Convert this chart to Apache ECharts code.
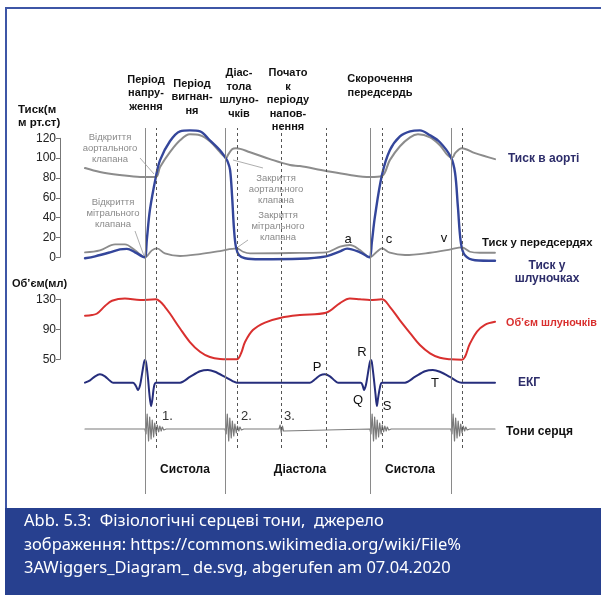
<!DOCTYPE html>
<html><head><meta charset="utf-8">
<script src="https://cdn.jsdelivr.net/npm/echarts@6/dist/echarts.min.js"></script>
<style>html,body{margin:0;padding:0;background:#fff}#c{width:601px;height:595px}</style>
</head><body><div id="c"></div>
<script>
// time axis in ms (one cardiac cycle = 800 ms)
const T_MIN = 0, T_MAX = 1458;
const solidEvents = [213, 500, 1013, 1301];
const dashedEvents = [252, 540, 697, 857, 1056, 1340];
const pressureTicks = [0, 20, 40, 60, 80, 100, 120];
const volumeTicks = [50, 90, 130];

// pressure, mmHg
const aorticPressure = [[0,90],[53,86],[124,83],[196,81],[252,81],[267,91],[302,106],[338,118],[373,124],[409,123],[444,117],[480,106],[498,101],[503,100.5],[508,103],[523,109],[537,110],[587,106],[658,99],[729,93],[764,92],[857,87],[942,83],[1013,81],[1056,82],[1084,98],[1120,112],[1156,121],[1184,124],[1227,121],[1262,113],[1301,101],[1308,101],[1316,105],[1340,110],[1387,105],[1458,99]];
const ventricularPressure = [[0,-1],[36,1],[89,5],[124,8],[149,8.5],[178,5],[203,1],[213,0],[220,18],[231,48],[252,81],[267,98],[302,117],[338,127],[373,128],[409,127],[444,118],[480,108],[498,101],[508,96],[516,88],[523,62],[530,28],[537,10],[548,2],[569,-1],[622,-2],[764,-1.5],[857,1],[907,6],[932,8.7],[978,5],[1003,1],[1013,0],[1020,15],[1031,41],[1056,83],[1084,108],[1120,122],[1156,127],[1191,128],[1227,123],[1262,116],[1301,101],[1316,85],[1326,51],[1337,14],[1351,2],[1387,-3],[1458,-3.5]];
const atrialPressure = [[0,5],[53,7],[107,13],[142,13],[178,7],[213,0],[238,7],[256,9],[284,4],[338,1.3],[409,3.3],[480,6.3],[540,9],[562,5.6],[587,4],[764,4.5],[857,5],[907,10.7],[942,12.4],[978,7.4],[1013,0],[1038,5.6],[1056,9],[1084,4.6],[1138,2.3],[1227,4.6],[1301,8],[1340,10],[1369,5.6],[1404,4.6],[1458,4.6]];
// ventricular volume, ml
const ventricularVolume = [[0,108],[25,109],[43,111],[71,121],[96,128],[142,131],[196,129],[252,130],[267,127],[284,120],[302,111],[338,91],[373,73],[409,60],[444,53],[480,50.5],[540,50],[555,58],[569,73],[597,89],[640,99],[697,105.5],[764,109],[857,112],[907,125],[942,131],[978,130],[1013,129],[1056,130],[1084,120],[1120,102],[1156,85],[1191,69],[1227,58],[1262,52],[1301,50],[1340,49.5],[1369,71],[1394,87],[1422,96],[1458,100]];
// ECG, mV
const ecg = [[0,0],[18,0.1],[36,0.28],[53,0.37],[71,0.28],[89,0.08],[100,0],[171,0],[181,-0.15],[188,-0.32],[196,-0.1],[203,0.4],[210,0.9],[213,1.0],[217,0.9],[224,0.2],[229,-0.5],[235,-1.03],[240,-0.7],[245,-0.2],[252,0],[338,0],[373,0.25],[409,0.5],[437,0.56],[462,0.48],[498,0.25],[526,0.06],[540,0],[800,0],[818,0.15],[836,0.32],[853,0.37],[871,0.28],[889,0.08],[900,0],[981,0],[988,-0.15],[992,-0.32],[999,-0.1],[1006,0.4],[1013,0.9],[1017,1.0],[1020,0.9],[1027,0.2],[1033,-0.5],[1038,-1.03],[1042,-0.7],[1049,-0.2],[1056,0],[1138,0],[1173,0.25],[1209,0.5],[1237,0.56],[1262,0.48],[1298,0.25],[1323,0.06],[1340,0],[1458,0]];
// heart sounds, relative amplitude
const heartSounds = [[0,0],
[213,0],[217,-5],[221,15],[226,-12],[230,12],[235,-10],[239,9],[244,-8],[248,6],[253,-5],[257,4],[262,-3],[266,3],[271,-2],[275,2],[280,-1],[284,1],[289,0],
[498,0],[502,-5],[506,15],[511,-12],[515,11],[520,-9],[524,8],[529,-7],[533,5],[538,-4],[542,3],[547,-2],[551,2],[556,-1],[560,1],[565,0],
[690,0],[694,4],[698,-4],[702,3],[706,-2],[710,0],
[1013,0],[1017,-5],[1021,15],[1026,-12],[1030,12],[1035,-10],[1039,9],[1044,-8],[1048,6],[1053,-5],[1057,4],[1062,-3],[1066,3],[1071,-2],[1075,2],[1080,-1],[1084,1],[1089,0],
[1301,0],[1305,-5],[1309,15],[1314,-12],[1318,11],[1323,-9],[1327,8],[1332,-7],[1336,5],[1341,-4],[1345,3],[1350,-2],[1354,2],[1359,-1],[1363,1],[1368,0],
[1458,0]];

const GRAY = '#8c8c8c', BLUE = '#34469b', RED = '#d9302f', NAVY = '#262e7c', TXT_NAVY = '#2d2d6a';
const FONT = '"Liberation Sans", Arial, sans-serif';

const chart = echarts.init(document.getElementById('c'));
const L = 85, W = 410;
const grids = [
  {left: L, width: W, top: 138.3, height: 119},   // pressure
  {left: L, width: W, top: 299.3, height: 60},    // volume
  {left: L, width: W, top: 348.6, height: 68.1},  // ecg
  {left: L, width: W, top: 409, height: 40},      // sounds
  {left: L, width: W, top: 128, height: 366},     // solid event lines
  {left: L, width: W, top: 128, height: 320}      // dashed event lines
];
const xAxes = grids.map((g, i) => ({type: 'value', gridIndex: i, min: T_MIN, max: T_MAX, show: false}));
const axisCommon = {
  type: 'value', position: 'left', offset: 25, splitLine: {show: false},
  axisLine: {show: true, onZero: false, lineStyle: {color: '#777', width: 1}},
  axisLabel: {color: '#222', fontSize: 12, margin: 4, fontFamily: FONT},
  axisTick: {show: true, inside: false, length: 4, lineStyle: {color: '#777'}}
};
const yAxes = [
  Object.assign({}, axisCommon, {gridIndex: 0, min: 0, max: 120,
    axisLabel: Object.assign({}, axisCommon.axisLabel, {customValues: pressureTicks}),
    axisTick: Object.assign({}, axisCommon.axisTick, {customValues: pressureTicks})}),
  Object.assign({}, axisCommon, {gridIndex: 1, min: 50, max: 130,
    axisLabel: Object.assign({}, axisCommon.axisLabel, {customValues: volumeTicks}),
    axisTick: Object.assign({}, axisCommon.axisTick, {customValues: volumeTicks})}),
  {type: 'value', gridIndex: 2, min: -1.5, max: 1.5, show: false},
  {type: 'value', gridIndex: 3, min: -20, max: 20, show: false},
  {type: 'value', gridIndex: 4, min: 0, max: 1, show: false},
  {type: 'value', gridIndex: 5, min: 0, max: 1, show: false}
];
function curve(idx, data, color, width, smooth, z) {
  return {type: 'line', xAxisIndex: idx, yAxisIndex: idx, data, smooth, symbol: 'none', showSymbol: false,
    clip: false, z, lineStyle: {color, width, cap: 'round', join: 'round'}, silent: true};
}
function eventLines(idx, events, color, type) {
  return {type: 'line', xAxisIndex: idx, yAxisIndex: idx, data: [], z: 1, silent: true,
    markLine: {silent: true, symbol: ['none', 'none'], label: {show: false}, animation: false,
      lineStyle: {color, width: 1, type}, data: events.map(t => ({xAxis: t}))}};
}
const series = [
  eventLines(4, solidEvents, '#8a8a8a', 'solid'),
  eventLines(5, dashedEvents, '#555', [3, 3]),
  curve(0, atrialPressure, GRAY, 1.8, 0.35, 3),
  curve(0, aorticPressure, GRAY, 2, 0.35, 3),
  curve(0, ventricularPressure, BLUE, 2.4, 0.35, 4),
  curve(1, ventricularVolume, RED, 2, 0.35, 3),
  curve(2, ecg, NAVY, 2, 0.3, 3),
  curve(3, heartSounds, '#7a7a7a', 1.2, false, 3)
];

function txt(x, y, text, opts) {
  opts = opts || {};
  return {type: 'text', x, y, silent: true, z: 10, style: Object.assign({
    text, fill: opts.fill || '#111', font: (opts.weight || 'normal') + ' ' + (opts.size || 12) + 'px ' + (opts.family || FONT),
    textAlign: opts.align || 'center', textVerticalAlign: 'middle', align: opts.align || 'center', verticalAlign: 'middle',
    lineHeight: opts.lh || 13.5})};
}
function ln(x1, y1, x2, y2, color, w) {
  return {type: 'line', silent: true, z: 10, shape: {x1, y1, x2, y2}, style: {stroke: color || '#999', lineWidth: w || 0.8}};
}
const B = {weight: 'bold', size: 11};
const graphics = [
  // frame
  {type: 'rect', silent: true, z: 0, shape: {x: 5, y: 508, width: 596, height: 87}, style: {fill: '#27408f'}},
  ln(6, 8, 601, 8, '#3e56a6', 2), ln(6, 7, 6, 508, '#3e56a6', 2),
  // axis titles
  txt(18, 110, 'Тиск(м', {weight: 'bold', size: 11.5, align: 'left'}),
  txt(18, 123, 'м рт.ст)', {weight: 'bold', size: 11.5, align: 'left'}),
  txt(12, 284, 'Об’єм(мл)', {weight: 'bold', size: 11, align: 'left'}),
  // phase labels
  txt(146, 93, 'Період\nнапру-\nження', B),
  txt(192, 97, 'Період\nвигнан-\nня', B),
  txt(239, 93.5, 'Діас-\nтола\nшлуно-\nчків', B),
  txt(288, 100, 'Почато\nк\nперіоду\nнапов-\nнення', B),
  txt(380, 86, 'Скорочення\nпередсердь', B),
  // bottom labels
  txt(185, 470, 'Систола', {weight: 'bold', size: 12}),
  txt(300, 470, 'Діастола', {weight: 'bold', size: 12}),
  txt(410, 470, 'Систола', {weight: 'bold', size: 12}),
  // right labels
  txt(508, 159, 'Тиск в аорті', {weight: 'bold', size: 12, align: 'left', fill: TXT_NAVY}),
  txt(482, 243, 'Тиск у передсердях', {weight: 'bold', size: 11.3, align: 'left'}),
  txt(547, 272, 'Тиск у\nшлуночках', {weight: 'bold', size: 12, fill: TXT_NAVY}),
  txt(506, 323, 'Об’єм шлуночків', {weight: 'bold', size: 10.8, align: 'left', fill: RED}),
  txt(518, 383, 'ЕКГ', {weight: 'bold', size: 12, align: 'left', fill: TXT_NAVY}),
  txt(506, 432, 'Тони серця', {weight: 'bold', size: 12, align: 'left'}),
  // valve annotations
  txt(110, 148, 'Відкриття\nаортального\nклапана', {size: 9.5, fill: '#8a8a8a', lh: 11}),
  txt(113, 213, 'Відкриття\nмітрального\nклапана', {size: 9.5, fill: '#8a8a8a', lh: 11}),
  txt(276, 189, 'Закриття\nаортального\nклапана', {size: 9.5, fill: '#8a8a8a', lh: 11}),
  txt(278, 226, 'Закриття\nмітрального\nклапана', {size: 9.5, fill: '#8a8a8a', lh: 11}),
  ln(140, 158, 154, 174), ln(135, 231, 144, 256), ln(233, 160, 263, 168), ln(238, 247, 248, 240),
  // wave labels
  txt(348, 239, 'a', {size: 13}), txt(389, 239, 'c', {size: 13}), txt(444, 238, 'v', {size: 13}),
  txt(317, 367, 'P', {size: 13}), txt(362, 352, 'R', {size: 13}), txt(358, 400, 'Q', {size: 13}),
  txt(387, 406, 'S', {size: 13}), txt(435, 383, 'T', {size: 13}),
  txt(162, 416, '1.', {size: 13, align: 'left', fill: '#333'}),
  txt(241, 416, '2.', {size: 13, align: 'left', fill: '#333'}),
  txt(284, 416, '3.', {size: 13, align: 'left', fill: '#333'}),
  // caption
  txt(24, 521, 'Abb. 5.3:  Фізіологічні серцеві тони,  джерело', {size: 16.5, align: 'left', fill: '#fff', family: '"Noto Sans", sans-serif'}),
  txt(24, 545, 'зображення: https://commons.wikimedia.org/wiki/File%', {size: 16.5, align: 'left', fill: '#fff', family: '"Noto Sans", sans-serif'}),
  txt(24, 568, '3AWiggers_Diagram_ de.svg, abgerufen am 07.04.2020', {size: 16.5, align: 'left', fill: '#fff', family: '"Noto Sans", sans-serif'})
];

chart.setOption({
  animation: false,
  backgroundColor: '#fff',
  grid: grids, xAxis: xAxes, yAxis: yAxes, series, graphic: graphics
});
</script></body></html>
